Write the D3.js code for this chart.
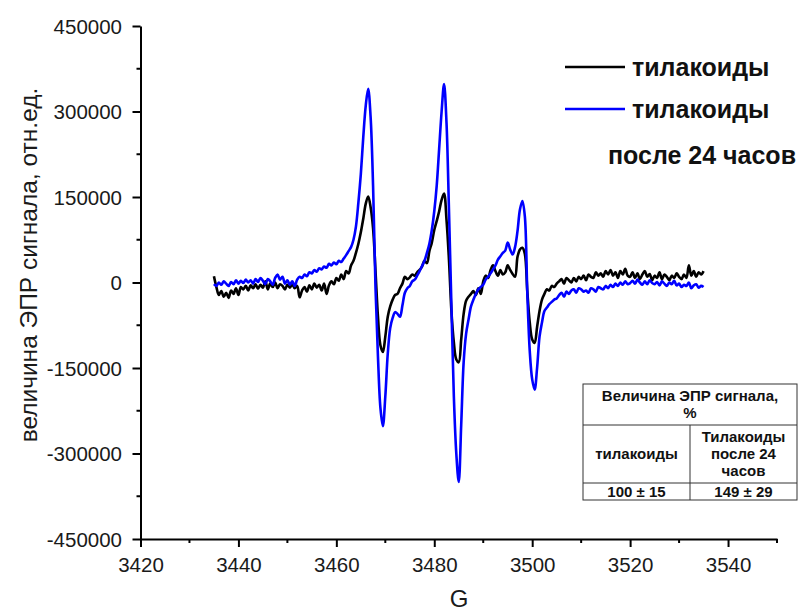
<!DOCTYPE html>
<html>
<head>
<meta charset="utf-8">
<script src="https://cdn.jsdelivr.net/npm/d3@7"></script>
<style>
  body { margin: 0; background: #fff; }
  svg { font-family: "Liberation Sans", Arial, sans-serif; }
</style>
</head>
<body>
<div id="chart"></div>
<script>
// EPR spectra, field in G, signal in thousands of rel. units (sampled every 0.5 G)
var fieldStart = 3435, fieldEnd = 3535, fieldStep = 0.5

var thylakoids = [
  11, -8, -22, -15, -25, -18, -27, -14, -20, -10,      // 3435
  -22, -8, -12, -6, -14, -5, -10, -3, -11, -4,         // 3440
  -9, 2, -12, -2, -8, 0, -10, -3, -6, -12,             // 3445
  -4, -9, -3, -10, -6, -26, -14, -8, -16, -5,          // 3450
  -12, -2, -9, -4, -14, -2, -20, -5, 2, -3,            // 3455
  8, 3, 14, 6, 20, 16, 30, 38, 52, 68,                 // 3460
  88, 112, 138, 151, 132, 95, 20, -60, -110, -122,     // 3465
  -95, -60, -42, -30, -22, -20, -10, -2, 10, 6,        // 3470
  9, 14, 12, 18, 22, 28, 38, 34, 55, 70,               // 3475
  92, 108, 125, 145, 156, 110, 40, -50, -105, -135,    // 3480
  -140, -100, -55, -32, -25, -20, -15, -22, -10, -20,  // 3485
  2, 12, 8, 22, 30, 20, 12, 22, 14, 18,                // 3490
  30, 22, 15, 10, 45, 58, 61, 50, -15, -70,            // 3495
  -100, -106, -78, -50, -30, -20, -12, -14, -6, -8,    // 3500
  -2, 2, 6, -2, 8, 4, 0, 8, 2, 10,                     // 3505
  6, 12, 4, 14, 10, 8, 18, 12, 16, 10,                 // 3510
  20, 14, 22, 12, 18, 8, 20, 14, 24, 12,               // 3515
  10, 18, 8, 16, 6, 14, 20, 10, 15, 4,                 // 3520
  12, 8, 18, 6, 14, 10, 4, 12, 8, 16,                  // 3525
  10, 6, 14, 8, 30, 12, 20, 10, 18, 14,                // 3530
  20                                                   // 3535
]

var thylakoids24h = [
  -3, -6, 0, -4, 2, -2, -6, 1, -3, 4,                  // 3435
  -2, 3, -1, 5, 0, 4, -2, 6, 1, 8,                     // 3440
  3, -3, 6, 2, -4, 8, 14, 5, 10, -2,                   // 3445
  4, -4, 2, -6, 5, 10, 8, 14, 11, 18,                  // 3450
  16, 22, 19, 25, 23, 28, 26, 33, 30, 35,              // 3455
  32, 38, 36, 42, 48, 55, 62, 75, 98, 140,             // 3460
  190, 255, 310, 340, 290, 170, -10, -130, -220, -252, // 3465
  -200, -125, -80, -62, -52, -55, -60, -40, -18, -10,  // 3470
  -6, 2, 5, 12, 20, 29, 38, 52, 68, 92,                // 3475
  125, 170, 235, 300, 348, 280, 128, -40, -200, -300,  // 3480
  -350, -250, -140, -90, -65, -42, -30, -20, -12, -8,  // 3485
  -4, 5, 10, 16, 23, 30, 40, 46, 52, 56,               // 3490
  70, 58, 49, 62, 90, 128, 143, 116, -18, -120,        // 3495
  -170, -188, -150, -95, -70, -50, -44, -38, -34, -30, // 3500
  -28, -22, -18, -25, -16, -20, -14, -12, -18, -10,    // 3505
  -12, -16, -14, -18, -10, -12, -16, -8, -10, -12,     // 3510
  -6, -10, -4, -8, -2, -6, 0, -4, 2, -3,               // 3515
  -1, 3, -2, 5, 0, -4, 2, -3, 4, -1,                   // 3520
  -3, 1, -5, 2, -2, -6, 0, -3, 3, -5,                  // 3525
  -2, -8, -4, -6, 0, -10, -5, -3, -9, -6,              // 3530
  -8                                                   // 3535
]

var xTicks = [3420, 3440, 3460, 3480, 3500, 3520, 3540]
var xMinor = [3430, 3450, 3470, 3490, 3510, 3530, 3550]
var yTicks = [-450000, -300000, -150000, 0, 150000, 300000, 450000]
var yMinor = [-375000, -225000, -75000, 75000, 225000, 375000]

var legendLabels = ["тилакоиды", "тилакоиды", "после 24 часов"]
var tableHead = ["Величина ЭПР сигнала,", "%"]
var tableCol1 = ["тилакоиды"]
var tableCol2 = ["Тилакоиды", "после 24", "часов"]
var tableValues = ["100 ± 15", "149 ± 29"]

var width = 806, height = 613

var svg = d3.select("#chart").append("svg")
  .attr("width", width)
  .attr("height", height)

svg.append("rect").attr("width", width).attr("height", height).attr("fill", "#fff")

var x = d3.scaleLinear().domain([3420, 3550]).range([140.5, 777])
var y = d3.scaleLinear().domain([-450000, 450000]).range([539, 26])

var fields = d3.range(fieldStart, fieldEnd + fieldStep / 2, fieldStep)

var line = d3.line()
  .curve(d3.curveCatmullRom.alpha(0.5))
  .x(function(d) { return x(d[0]) })
  .y(function(d) { return y(d[1] * 1000) })

var series = [
  { values: thylakoids, color: "#000000" },
  { values: thylakoids24h, color: "#0000ff" }
]

svg.selectAll(".curve")
  .data(series)
  .enter().append("path")
  .attr("class", "curve")
  .attr("fill", "none")
  .attr("stroke", function(d) { return d.color })
  .attr("stroke-width", 2.6)
  .attr("stroke-linejoin", "round")
  .attr("d", function(d) {
    return line(fields.map(function(f, i) { return [f, d.values[i]] }))
  })

// axes
var xAxis = d3.axisBottom(x).tickValues(xTicks).tickSize(8).tickSizeOuter(0)
  .tickFormat(function(d) { return String(d) })
var gx = svg.append("g")
  .attr("class", "axis x-axis")
  .attr("transform", "translate(0,539)")
  .call(xAxis)
gx.append("g").selectAll("line")
  .data(xMinor)
  .enter().append("line")
  .attr("x1", function(d) { return x(d) }).attr("x2", function(d) { return x(d) })
  .attr("y1", 0).attr("y2", 4)
  .attr("stroke", "#000").attr("stroke-width", 2)

var yAxis = d3.axisLeft(y).tickValues(yTicks).tickSize(8).tickSizeOuter(0)
  .tickFormat(function(d) { return String(d) })
var gy = svg.append("g")
  .attr("class", "axis y-axis")
  .attr("transform", "translate(140.5,0)")
  .call(yAxis)
gy.append("g").selectAll("line")
  .data(yMinor)
  .enter().append("line")
  .attr("y1", function(d) { return y(d) }).attr("y2", function(d) { return y(d) })
  .attr("x1", 0).attr("x2", -4)
  .attr("stroke", "#000").attr("stroke-width", 2)

svg.selectAll(".axis path.domain").attr("stroke", "#000").attr("stroke-width", 2)
svg.selectAll(".axis .tick line").attr("stroke", "#000").attr("stroke-width", 2)
svg.selectAll(".axis .tick text")
  .attr("font-family", "'Liberation Sans', Arial, sans-serif")
  .attr("font-size", 20.5)
  .attr("fill", "#1a1a1a")
gx.selectAll(".tick text").attr("y", 33).attr("dy", 0)
gy.selectAll(".tick text").attr("x", -18.5).attr("dy", "0.35em")

// axis titles
svg.append("text")
  .attr("transform", "translate(37,265) rotate(-90)")
  .attr("text-anchor", "middle")
  .attr("font-size", 24.5)
  .attr("fill", "#1a1a1a")
  .text("величина ЭПР сигнала, отн.ед.")

svg.append("text")
  .attr("x", 459).attr("y", 607)
  .attr("text-anchor", "middle")
  .attr("font-size", 24)
  .attr("fill", "#1a1a1a")
  .text("G")

// legend
var legend = svg.append("g").attr("class", "legend")
legend.selectAll("line")
  .data(series)
  .enter().append("line")
  .attr("x1", 565).attr("x2", 625)
  .attr("y1", function(d, i) { return 67 + i * 42 })
  .attr("y2", function(d, i) { return 67 + i * 42 })
  .attr("stroke", function(d) { return d.color })
  .attr("stroke-width", 2.6)
legend.selectAll("text")
  .data(legendLabels)
  .enter().append("text")
  .attr("x", function(d, i) { return i < 2 ? 632 : 796 })
  .attr("y", function(d, i) { return [76, 118, 164][i] })
  .attr("text-anchor", function(d, i) { return i < 2 ? "start" : "end" })
  .attr("font-size", 25)
  .attr("font-weight", "bold")
  .attr("fill", "#111")
  .text(function(d) { return d })

// table
var tb = svg.append("g").attr("class", "table")
var tL = 583, tR = 797, tT = 384, tH = 425, tR2 = 483, tB = 500, tM = 690
tb.append("rect")
  .attr("x", tL).attr("y", tT).attr("width", tR - tL).attr("height", tB - tT)
  .attr("fill", "#fff").attr("stroke", "#333").attr("stroke-width", 1)
tb.append("line").attr("x1", tL).attr("x2", tR).attr("y1", tH).attr("y2", tH).attr("stroke", "#333")
tb.append("line").attr("x1", tL).attr("x2", tR).attr("y1", tR2).attr("y2", tR2).attr("stroke", "#333")
tb.append("line").attr("x1", tM).attr("x2", tM).attr("y1", tH).attr("y2", tB).attr("stroke", "#333")

function cellText(lines, cx, cy, lh) {
  var top = cy - (lines.length - 1) * lh / 2
  tb.append("g").selectAll("text")
    .data(lines)
    .enter().append("text")
    .attr("x", cx)
    .attr("y", function(d, i) { return top + i * lh })
    .attr("dy", "0.35em")
    .attr("text-anchor", "middle")
    .attr("font-size", 15)
    .attr("font-weight", "bold")
    .attr("fill", "#111")
    .text(function(d) { return d })
}
cellText(tableHead, (tL + tR) / 2, (tT + tH) / 2, 17)
cellText(tableCol1, (tL + tM) / 2, (tH + tR2) / 2, 17)
cellText(tableCol2, (tM + tR) / 2, (tH + tR2) / 2, 17)
cellText([tableValues[0]], (tL + tM) / 2, (tR2 + tB) / 2, 17)
cellText([tableValues[1]], (tM + tR) / 2, (tR2 + tB) / 2, 17)
</script>
</body>
</html>
